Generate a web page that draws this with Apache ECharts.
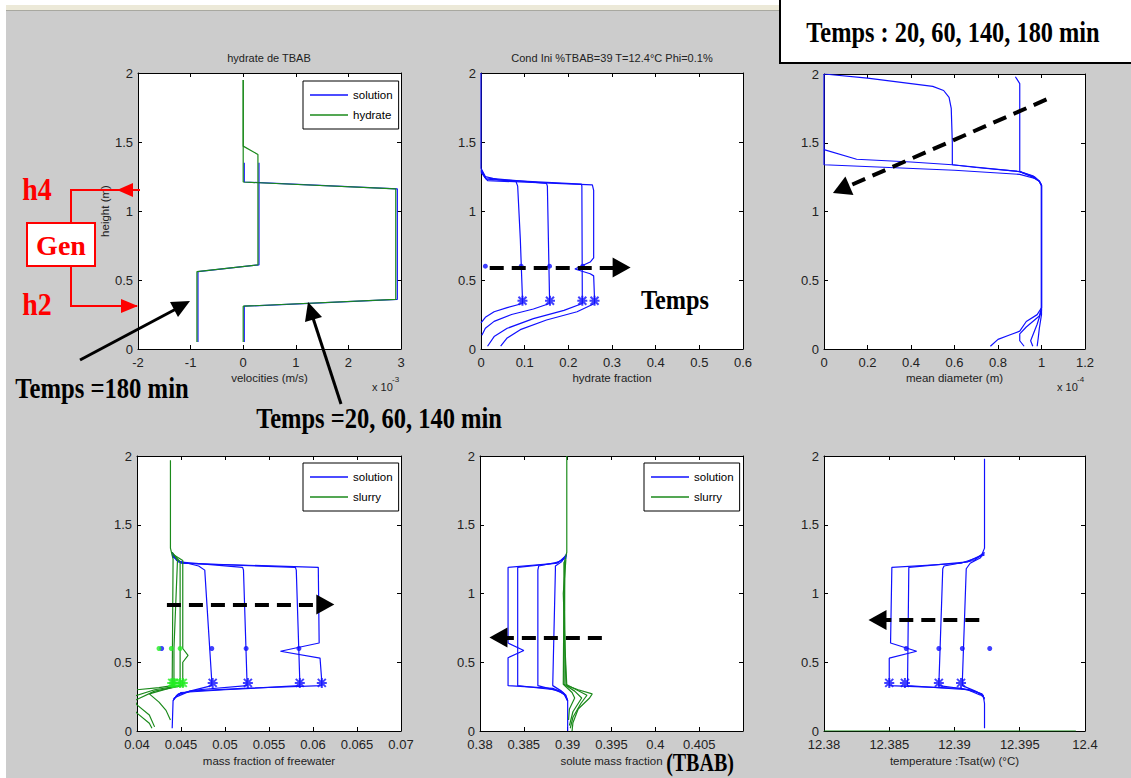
<!DOCTYPE html>
<html><head><meta charset="utf-8">
<script src="https://cdn.jsdelivr.net/npm/echarts@6/dist/echarts.min.js"></script>
<style>html,body{margin:0;padding:0;background:#fff}#c{width:1131px;height:778px}</style>
</head><body><div id="c"></div><script>
// ---------- tick labels ----------
const heightTicks = [0, 0.5, 1, 1.5, 2];
const velTicks = [-2, -1, 0, 1, 2, 3];
const hydFracTicks = [0, 0.1, 0.2, 0.3, 0.4, 0.5, 0.6];
const diamTicks = [0, 0.2, 0.4, 0.6, 0.8, 1, 1.2];
const freeWaterTicks = [0.04, 0.045, 0.05, 0.055, 0.06, 0.065, 0.07];
const soluteTicks = [0.38, 0.385, 0.39, 0.395, 0.4, 0.405, 0.41];
const tempTicks = [12.38, 12.385, 12.39, 12.395, 12.4];

// ---------- panel 1 : velocities (x 1e-3 m/s) ----------
const velHydrate_t20_140 = [[0,1.95],[0,1.21],[2.9,1.16],[2.9,0.36],[0,0.31],[0,0.05]];
const velHydrate_t180 = [[0,1.95],[0,1.47],[0.28,1.41],[0.28,0.61],[-0.88,0.56],[-0.88,0.05]];
const velSolution_t20_140 = [[0.02,1.35],[0.02,1.21],[2.93,1.16],[2.93,0.36],[0.02,0.31],[0.02,0.05]];
const velSolution_t180 = [[0.30,1.35],[0.30,0.61],[-0.86,0.56],[-0.86,0.05]];

// ---------- panel 2 : hydrate fraction ----------
const hydFrac_t20 = [[0,2.0],[0,1.31],[0.01,1.25],[0.04,1.225],[0.08,1.215],[0.084,1.18],[0.09,0.8],[0.095,0.36],[0.095,0.33],[0.06,0.30],[0.03,0.27],[0.01,0.23],[0,0.19]];
const hydFrac_t60 = [[0,1.30],[0.01,1.24],[0.15,1.20],[0.152,1.18],[0.157,0.36],[0.157,0.33],[0.12,0.29],[0.07,0.25],[0.03,0.20],[0.01,0.15],[0.002,0.10]];
const hydFrac_t140 = [[0,1.29],[0.012,1.23],[0.23,1.195],[0.231,1.18],[0.232,0.36],[0.232,0.33],[0.19,0.28],[0.12,0.22],[0.06,0.15],[0.03,0.09],[0.015,0.02]];
const hydFrac_t180 = [[0,1.28],[0.015,1.22],[0.255,1.19],[0.258,1.15],[0.258,0.66],[0.25,0.63],[0.215,0.58],[0.25,0.545],[0.258,0.53],[0.26,0.36],[0.26,0.33],[0.22,0.27],[0.15,0.21],[0.09,0.14],[0.06,0.08],[0.045,0.02]];
const hydFracStars = [[0.095,0.35],[0.158,0.35],[0.232,0.35],[0.26,0.35]];
const hydFracDots = [[0.01,0.6],[0.092,0.6],[0.157,0.6],[0.233,0.6]];

// ---------- panel 3 : mean diameter (x 1e-4 m) ----------
const diam_a = [[0,2.0],[0.2,1.97],[0.4,1.93],[0.5,1.91],[0.55,1.88],[0.575,1.83],[0.585,1.75],[0.59,1.5],[0.59,1.34],[0.7,1.32],[0.9,1.29],[0.96,1.26],[0.99,1.22],[1.0,1.19],[1.0,0.3],[0.98,0.25],[0.93,0.2],[0.9,0.13],[0.85,0.1],[0.8,0.07],[0.765,0.02]];
const diam_b = [[0.88,1.98],[0.9,1.93],[0.9,1.29],[0.96,1.25],[0.99,1.22],[1.0,1.19],[1.0,0.3],[0.99,0.24],[0.93,0.16],[0.9,0.11],[0.9,0.06],[0.92,0.02]];
const diam_c = [[0,2.0],[0,1.45],[0.15,1.38],[0.4,1.36],[0.59,1.34],[0.9,1.29],[0.97,1.25],[0.99,1.22],[1.0,1.19],[1.0,0.28],[0.98,0.18],[0.96,0.1],[0.95,0.06],[0.96,0.02]];
const diam_d = [[0,1.45],[0,1.34],[0.3,1.32],[0.6,1.30],[0.9,1.27],[0.97,1.24],[0.99,1.22],[1.0,1.19],[1.0,0.25],[0.99,0.15],[0.985,0.08],[0.98,0.02]];

// ---------- panel 4 : mass fraction of free water ----------
const fwSolution_t20 = [[0.0440,1.30],[0.0445,1.24],[0.0470,1.20],[0.0477,1.17],[0.0485,0.36],[0.0485,0.33],[0.046,0.29],[0.0445,0.26],[0.0441,0.22],[0.044,0.02]];
const fwSolution_t60 = [[0.0440,1.29],[0.0447,1.23],[0.0520,1.19],[0.0521,1.17],[0.0525,0.36],[0.0525,0.33],[0.047,0.30],[0.0447,0.27],[0.0441,0.22]];
const fwSolution_t140 = [[0.0440,1.28],[0.0450,1.22],[0.0580,1.19],[0.0581,1.17],[0.0585,0.36],[0.0585,0.33],[0.050,0.30],[0.0450,0.28],[0.0441,0.23]];
const fwSolution_t180 = [[0.0440,1.27],[0.0452,1.22],[0.0606,1.19],[0.0607,0.64],[0.0563,0.58],[0.0608,0.53],[0.061,0.36],[0.061,0.33],[0.052,0.31],[0.046,0.29],[0.0442,0.24]];
const fwSlurry_t20 = [[0.0438,1.97],[0.0438,1.33],[0.0441,1.25],[0.0440,0.35],[0.0440,0.33],[0.0425,0.315],[0.040,0.30]];
const fwSlurry_t60 = [[0.0440,1.30],[0.0446,1.24],[0.0442,0.6],[0.0442,0.35],[0.0442,0.32],[0.0425,0.29],[0.0414,0.27],[0.0425,0.21],[0.0433,0.15],[0.0438,0.08]];
const fwSlurry_t140 = [[0.0441,1.29],[0.0449,1.23],[0.0449,0.36],[0.0449,0.33],[0.042,0.30],[0.0395,0.25],[0.040,0.19],[0.0414,0.116],[0.042,0.03]];
const fwSlurry_t180 = [[0.0442,1.28],[0.0452,1.24],[0.0452,0.6],[0.0458,0.55],[0.0452,0.5],[0.0452,0.33],[0.042,0.29],[0.039,0.2],[0.040,0.13],[0.0414,0.056],[0.0417,0.02]];
const fwSolutionStars = [[0.0486,0.35],[0.0526,0.35],[0.0585,0.35],[0.061,0.35]];
const fwSolutionDots = [[0.0428,0.6],[0.0485,0.6],[0.0524,0.6],[0.0584,0.6]];
const fwSlurryStars = [[0.0440,0.35],[0.0442,0.35],[0.0449,0.35],[0.0452,0.35]];
const fwSlurryDots = [[0.0425,0.6],[0.0439,0.6],[0.0449,0.6]];

// ---------- panel 5 : solute mass fraction ----------
const soluteSolution_t20 = [[0.3899,1.29],[0.3893,1.23],[0.3886,1.2],[0.3886,1.17],[0.3883,0.34],[0.3883,0.33],[0.3893,0.29],[0.3898,0.26],[0.39,0.22],[0.39,0.0]];
const soluteSolution_t60 = [[0.3899,1.28],[0.389,1.23],[0.3867,1.2],[0.3866,1.17],[0.3866,0.33],[0.389,0.29],[0.3897,0.26],[0.39,0.22]];
const soluteSolution_t140 = [[0.3899,1.27],[0.3888,1.22],[0.3843,1.19],[0.3843,0.33],[0.3885,0.30],[0.3896,0.27],[0.39,0.22]];
const soluteSolution_t180 = [[0.3899,1.26],[0.3886,1.22],[0.3832,1.19],[0.3832,0.64],[0.385,0.585],[0.3832,0.533],[0.3832,0.33],[0.3883,0.31],[0.3895,0.28],[0.39,0.22]];
const soluteSlurry_t20 = [[0.3899,2.0],[0.3899,1.3],[0.3896,1.22],[0.3897,0.6],[0.3899,0.33],[0.3912,0.30],[0.3928,0.27],[0.3925,0.24],[0.3912,0.16],[0.3906,0.06],[0.3905,0.0]];
const soluteSlurry_t60 = [[0.3898,1.25],[0.3895,1.0],[0.3897,0.6],[0.3898,0.34],[0.3910,0.30],[0.3922,0.26],[0.3915,0.2],[0.3906,0.1],[0.3903,0.02]];
const soluteSlurry_t140 = [[0.3897,1.24],[0.3896,0.7],[0.3896,0.34],[0.3908,0.29],[0.3916,0.24],[0.3906,0.14],[0.3902,0.04]];
const soluteSlurry_t180 = [[0.3896,1.23],[0.3895,0.34],[0.3905,0.28],[0.3908,0.24],[0.3902,0.16],[0.3901,0.08]];

// ---------- panel 6 : temperature Tsat(w) ----------
const temp_t20 = [[12.3923,1.98],[12.3923,1.33],[12.392,1.26],[12.3912,1.22],[12.3909,1.18],[12.3906,0.36],[12.3906,0.33],[12.3916,0.29],[12.3922,0.26],[12.3923,0.2],[12.3923,0.02]];
const temp_t60 = [[12.3923,1.30],[12.3915,1.24],[12.3892,1.20],[12.3891,1.18],[12.3888,0.33],[12.3912,0.30],[12.3921,0.27],[12.3923,0.23]];
const temp_t140 = [[12.3923,1.29],[12.391,1.23],[12.3865,1.19],[12.3864,0.33],[12.391,0.30],[12.392,0.26]];
const temp_t180 = [[12.3923,1.28],[12.3905,1.22],[12.3852,1.19],[12.3851,0.64],[12.3871,0.58],[12.3850,0.53],[12.3850,0.33],[12.3905,0.31],[12.3918,0.28],[12.3923,0.24]];
const tempStars = [[12.3850,0.35],[12.3862,0.35],[12.3888,0.35],[12.3905,0.35]];
const tempDots = [[12.3863,0.6],[12.3888,0.6],[12.3906,0.6],[12.3927,0.6]];
const tempSlurry = [[12.38,0],[12.3993,0]];

// ---------- dashed arrows (data coords: tail, arrow-head centre) ----------
const arrowHydFrac = [[0.02,0.59],[0.322,0.59]];
const arrowDiam = [[1.023,1.815],[0.079,1.161]];
const arrowFreeWater = [[0.0434,0.92],[0.0614,0.92]];
const arrowSolute = [[0.3939,0.68],[0.3821,0.68]];
const arrowTemp = [[12.3919,0.807],[12.3841,0.807]];

// ---------- build ----------
const BLUE = '#1010ff', GREEN = '#1b8a1b', LIME = '#22ee22';
const FONT = '"Liberation Sans", Arial, sans-serif';
const SERIF = '"Liberation Serif", "Times New Roman", serif';
const STAR = 'path://M4,0L6,0L6,10L4,10Z M0,4L10,4L10,6L0,6Z M0.3,1.7L1.7,0.3L9.7,8.3L8.3,9.7Z M8.3,0.3L9.7,1.7L1.7,9.7L0.3,8.3Z';

const grids = [
  {left:138, top:73, width:263, height:276},
  {left:481, top:73, width:262, height:276},
  {left:824, top:74, width:261, height:275},
  {left:137, top:456, width:264, height:275},
  {left:480, top:456, width:263, height:275},
  {left:824, top:456, width:261, height:275}
].map(g => Object.assign({show:true, backgroundColor:'#fff', borderWidth:0}, g));

const xTicks = [velTicks, hydFracTicks, diamTicks, freeWaterTicks, soluteTicks, tempTicks];
const xNames = ['velocities (m/s)', 'hydrate fraction', 'mean diameter (m)', 'mass fraction of freewater', 'solute mass fraction', 'temperature :Tsat(w) (°C)'];
const fmt = v => String(parseFloat(v.toFixed(4)));

const xAxis = [], yAxis = [];
for (let i = 0; i < 6; i++) {
  const t = xTicks[i];
  const base = {type:'value', gridIndex:i, min:t[0], max:t[t.length-1], interval:parseFloat((t[1]-t[0]).toFixed(6)),
    splitLine:{show:false}, axisLine:{onZero:false, lineStyle:{color:'#000', width:1}},
    axisTick:{inside:true, length:4, lineStyle:{color:'#000'}}};
  xAxis.push(Object.assign({}, base, {position:'bottom', name:xNames[i], nameLocation:'middle', nameGap: i<3 ? 23 : 24,
    nameTextStyle:{fontFamily:FONT, fontSize:11.5, color:'#222'},
    axisLabel:{fontFamily:FONT, fontSize:13, lineHeight:13, color:'#222', margin:7, formatter:fmt, showMaxLabel: i!==4}}));
  xAxis.push(Object.assign({}, base, {position:'top', axisLabel:{show:false}}));
  const hb = {type:'value', gridIndex:i, min:heightTicks[0], max:heightTicks[heightTicks.length-1], interval:heightTicks[1]-heightTicks[0],
    splitLine:{show:false}, axisLine:{onZero:false, lineStyle:{color:'#000', width:1}},
    axisTick:{inside:true, length:4, lineStyle:{color:'#000'}}};
  yAxis.push(Object.assign({}, hb, {position:'left', axisLabel:{fontFamily:FONT, fontSize:13, lineHeight:12, color:'#222', margin:5, formatter:fmt},
    name: i===0 ? 'height (m)' : '', nameLocation:'middle', nameGap:25, nameTextStyle:{fontFamily:FONT, fontSize:11.5, color:'#222'}}));
  yAxis.push(Object.assign({}, hb, {position:'right', axisLabel:{show:false}}));
}

function curve(name, data, color, g, z) {
  return {type:'line', name, data, xAxisIndex:2*g, yAxisIndex:2*g, symbol:'none', showSymbol:false,
    color, lineStyle:{color, width:1.2}, itemStyle:{color}, z:z||2, silent:true, animation:false, clip:true};
}
function marks(data, color, g, kind) {
  return {type:'scatter', data, xAxisIndex:2*g, yAxisIndex:2*g, symbol: kind==='star' ? STAR : 'circle',
    symbolSize: kind==='star' ? 10 : 5, itemStyle:{color}, silent:true, z:4, animation:false};
}
function arrow(g, a) {
  return {type:'line', name:'arrow'+g, data:[], xAxisIndex:2*g, yAxisIndex:2*g, symbol:'none', silent:true, z:6, animation:false,
    markLine:{silent:true, animation:false, symbol:['none','triangle'], symbolSize:[20,18], label:{show:false},
      lineStyle:{color:'#000', width:4, type:[14,8], opacity:1}, emphasis:{disabled:true},
      data:[[{coord:a[0]},{coord:a[1]}]]}};
}

const series = [
  curve('solution', velSolution_t20_140, BLUE, 0), curve('solution', velSolution_t180, BLUE, 0),
  curve('hydrate', velHydrate_t20_140, GREEN, 0, 3), curve('hydrate', velHydrate_t180, GREEN, 0, 3),

  curve('profile', hydFrac_t20, BLUE, 1), curve('profile', hydFrac_t60, BLUE, 1),
  curve('profile', hydFrac_t140, BLUE, 1), curve('profile', hydFrac_t180, BLUE, 1),
  marks(hydFracStars, BLUE, 1, 'star'), marks(hydFracDots, BLUE, 1, 'dot'), arrow(1, arrowHydFrac),

  curve('profile', diam_a, BLUE, 2), curve('profile', diam_b, BLUE, 2),
  curve('profile', diam_c, BLUE, 2), curve('profile', diam_d, BLUE, 2), arrow(2, arrowDiam),

  curve('solution', fwSolution_t20, BLUE, 3), curve('solution', fwSolution_t60, BLUE, 3),
  curve('solution', fwSolution_t140, BLUE, 3), curve('solution', fwSolution_t180, BLUE, 3),
  curve('slurry', fwSlurry_t20, GREEN, 3), curve('slurry', fwSlurry_t60, GREEN, 3),
  curve('slurry', fwSlurry_t140, GREEN, 3), curve('slurry', fwSlurry_t180, GREEN, 3),
  marks(fwSolutionStars, BLUE, 3, 'star'), marks(fwSolutionDots, BLUE, 3, 'dot'),
  marks(fwSlurryStars, LIME, 3, 'star'), marks(fwSlurryDots, LIME, 3, 'dot'), arrow(3, arrowFreeWater),

  curve('solution', soluteSolution_t20, BLUE, 4), curve('solution', soluteSolution_t60, BLUE, 4),
  curve('solution', soluteSolution_t140, BLUE, 4), curve('solution', soluteSolution_t180, BLUE, 4),
  curve('slurry', soluteSlurry_t20, GREEN, 4), curve('slurry', soluteSlurry_t60, GREEN, 4),
  curve('slurry', soluteSlurry_t140, GREEN, 4), curve('slurry', soluteSlurry_t180, GREEN, 4),
  arrow(4, arrowSolute),

  curve('profile', temp_t20, BLUE, 5), curve('profile', temp_t60, BLUE, 5),
  curve('profile', temp_t140, BLUE, 5), curve('profile', temp_t180, BLUE, 5),
  curve('tslurry', tempSlurry, GREEN, 5),
  marks(tempStars, BLUE, 5, 'star'), marks(tempDots, BLUE, 5, 'dot'), arrow(5, arrowTemp)
];

function legendAt(left, top, names) {
  return {show:true, left, top, orient:'vertical', data:names, selectedMode:false, icon:'rect',
    backgroundColor:'#fff', borderColor:'#000', borderWidth:1, borderRadius:0, padding:[7,6,7,7],
    itemWidth:38, itemHeight:1.6, itemGap:6,
    textStyle:{fontFamily:FONT, fontSize:11.5, color:'#000', lineHeight:14}};
}

function txt(x, y, text, font, fill, sx) {
  return {type:'text', x, y, scaleX:sx||1, z:50, silent:true,
    style:{text, font, fill, textAlign:'center', textVerticalAlign:'middle'}};
}

const graphic = [
  {type:'rect', shape:{x:0,y:0,width:1131,height:778}, style:{fill:'#fff'}, z:-100, silent:true},
  {type:'rect', shape:{x:6,y:5,width:1125,height:5}, style:{fill:'#ece9d8'}, z:-99, silent:true},
  {type:'rect', shape:{x:6,y:10,width:1125,height:768}, style:{fill:'#cccccc'}, z:-99, silent:true},
  {type:'line', shape:{x1:6,y1:10.5,x2:1131,y2:10.5}, style:{stroke:'#a8a8a0', lineWidth:1}, z:-98, silent:true},
  // titles and exponent labels
  txt(269, 58, 'hydrate de TBAB', '11px ' + FONT, '#222'),
  txt(612, 58, 'Cond Ini %TBAB=39 T=12.4°C Phi=0.1%', '11px ' + FONT, '#222'),
  {type:'text', x:372, y:387, z:50, silent:true, style:{text:'x 10', font:'11px ' + FONT, fill:'#222', textVerticalAlign:'middle'}},
  {type:'text', x:392, y:379, z:50, silent:true, style:{text:'-3', font:'8px ' + FONT, fill:'#222', textVerticalAlign:'middle'}},
  {type:'text', x:1057, y:387, z:50, silent:true, style:{text:'x 10', font:'11px ' + FONT, fill:'#222', textVerticalAlign:'middle'}},
  {type:'text', x:1077, y:379, z:50, silent:true, style:{text:'-4', font:'8px ' + FONT, fill:'#222', textVerticalAlign:'middle'}},
  // top-right box
  {type:'rect', shape:{x:780,y:-3,width:360,height:66}, style:{fill:'#fff', stroke:'#000', lineWidth:2}, z:40, silent:true},
  txt(953, 32, 'Temps : 20, 60, 140, 180 min', 'bold 29px ' + SERIF, '#000', 0.84),
  txt(675, 300, 'Temps', 'bold 27px ' + SERIF, '#000', 0.9),
  txt(102, 388, 'Temps =180 min', 'bold 29px ' + SERIF, '#000', 0.85),
  txt(379, 418, 'Temps =20, 60, 140 min', 'bold 29px ' + SERIF, '#000', 0.845),
  txt(700, 763, '(TBAB)', 'bold 25px ' + SERIF, '#000', 0.8),
  // Gen annotation
  txt(37, 189, 'h4', 'bold 31px ' + SERIF, '#f00', 0.9),
  txt(37, 304, 'h2', 'bold 31px ' + SERIF, '#f00', 0.9),
  {type:'polyline', shape:{points:[[71,223],[71,190],[140,190]]}, style:{stroke:'#f00', lineWidth:2, fill:null}, z:45, silent:true},
  {type:'polygon', shape:{points:[[117,190],[133,183],[133,197]]}, style:{fill:'#f00'}, z:45, silent:true},
  {type:'polyline', shape:{points:[[71,266],[71,306],[137,306]]}, style:{stroke:'#f00', lineWidth:2, fill:null}, z:45, silent:true},
  {type:'polygon', shape:{points:[[138,306],[121,299],[121,313]]}, style:{fill:'#f00'}, z:45, silent:true},
  {type:'rect', shape:{x:27,y:223,width:68,height:43}, style:{fill:'#fff', stroke:'#f00', lineWidth:2}, z:46, silent:true},
  txt(61, 245, 'Gen', 'bold 28px ' + SERIF, '#f00', 1.0),
  // black pointer arrows
  {type:'line', shape:{x1:80,y1:360,x2:176,y2:309}, style:{stroke:'#000', lineWidth:3}, z:45, silent:true},
  {type:'polygon', shape:{points:[[190,301],[178,317],[170,302]]}, style:{fill:'#000'}, z:45, silent:true},
  {type:'line', shape:{x1:341,y1:404,x2:313,y2:318}, style:{stroke:'#000', lineWidth:3}, z:45, silent:true},
  {type:'polygon', shape:{points:[[308,302],[322,317],[305,322]]}, style:{fill:'#000'}, z:45, silent:true}
];

const chart = echarts.init(document.getElementById('c'), null, {renderer:'svg'});
chart.setOption({
  animation:false,
  backgroundColor:'transparent',
  grid:grids, xAxis, yAxis, series, graphic,
  legend:[legendAt(303, 81, ['solution','hydrate']), legendAt(303, 463, ['solution','slurry']), legendAt(644, 463, ['solution','slurry'])]
});
</script></body></html>
